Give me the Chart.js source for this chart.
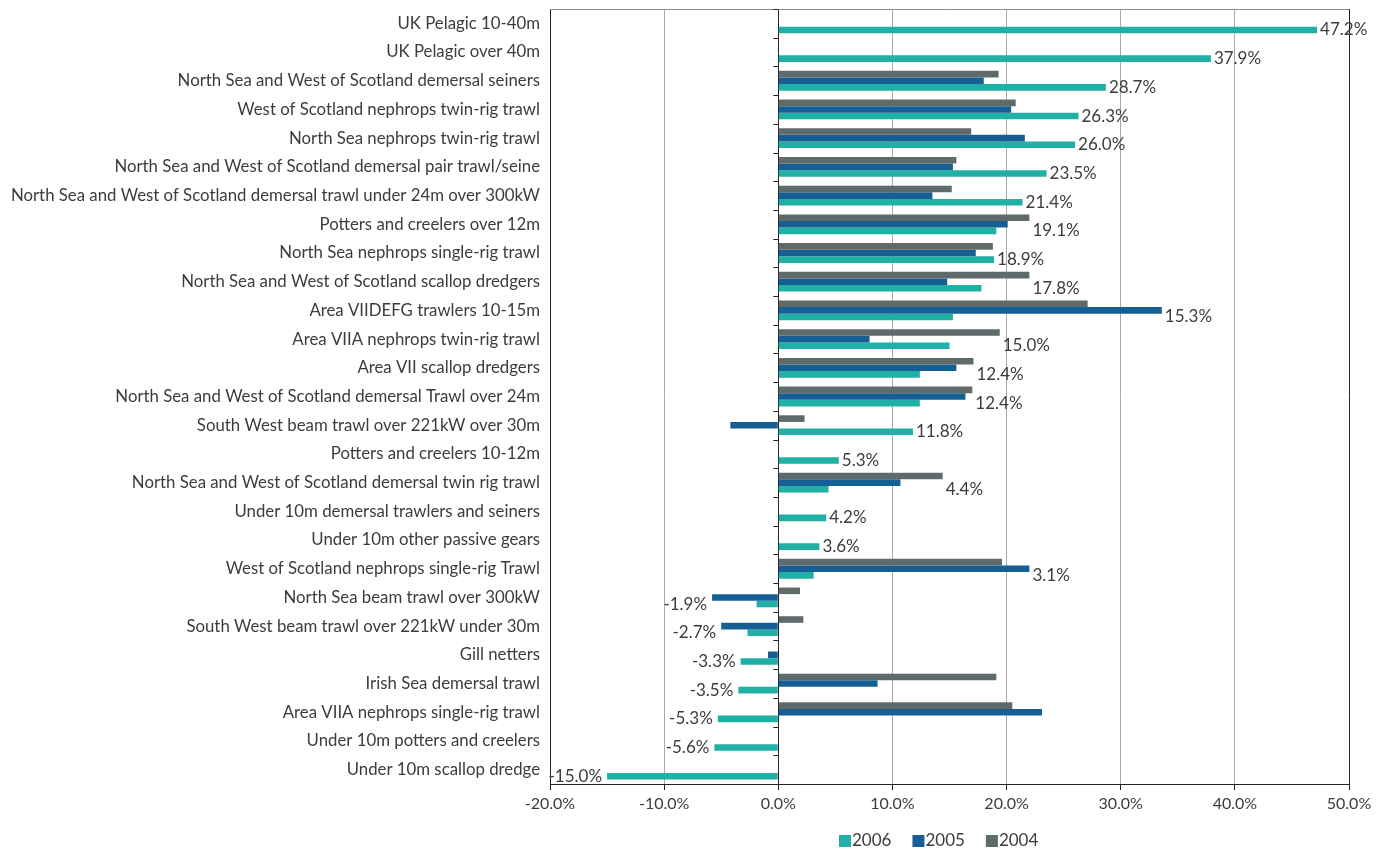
<!DOCTYPE html>
<html>
<head>
<meta charset="utf-8">
<script src="https://cdn.jsdelivr.net/npm/chart.js@4.4.0/dist/chart.umd.min.js"></script>
<style>
  html, body { margin: 0; padding: 0; background: #fff; }
  #wrap { width: 1397px; height: 850px; }
</style>
</head>
<body>
<div id="wrap"><canvas id="chart"></canvas></div>
<script>
// Categories, top to bottom
const categories = [
    'UK Pelagic 10-40m',
    'UK Pelagic over 40m',
    'North Sea and West of Scotland demersal seiners',
    'West of Scotland nephrops twin-rig trawl',
    'North Sea nephrops twin-rig trawl',
    'North Sea and West of Scotland demersal pair trawl/seine',
    'North Sea and West of Scotland demersal trawl under 24m over 300kW',
    'Potters and creelers over 12m',
    'North Sea nephrops single-rig trawl',
    'North Sea and West of Scotland scallop dredgers',
    'Area VIIDEFG trawlers 10-15m',
    'Area VIIA nephrops twin-rig trawl',
    'Area VII scallop dredgers',
    'North Sea and West of Scotland demersal Trawl over 24m',
    'South West beam trawl over 221kW over 30m',
    'Potters and creelers 10-12m',
    'North Sea and West of Scotland demersal twin rig trawl',
    'Under 10m demersal trawlers and seiners',
    'Under 10m other passive gears',
    'West of Scotland nephrops single-rig Trawl',
    'North Sea beam trawl over 300kW',
    'South West beam trawl over 221kW under 30m',
    'Gill netters',
    'Irish Sea demersal trawl',
    'Area VIIA nephrops single-rig trawl',
    'Under 10m potters and creelers',
    'Under 10m scallop dredge'
];

const values2006 = [47.2, 37.9, 28.7, 26.3, 26.0, 23.5, 21.4, 19.1, 18.9, 17.8, 15.3, 15.0, 12.4, 12.4, 11.8,
    5.3, 4.4, 4.2, 3.6, 3.1, -1.9, -2.7, -3.3, -3.5, -5.3, -5.6, -15.0];
const values2005 = [null, null, 18.0, 20.4, 21.6, 15.3, 13.5, 20.1, 17.3, 14.8, 33.6, 8.0, 15.6, 16.4, -4.2,
    null, 10.7, null, null, 22.0, -5.8, -5.0, -0.9, 8.7, 23.1, null, null];
const values2004 = [null, null, 19.3, 20.8, 16.9, 15.6, 15.2, 22.0, 18.8, 22.0, 27.1, 19.4, 17.1, 17.0, 2.3,
    null, 14.4, null, null, 19.6, 1.9, 2.2, null, 19.1, 20.5, null, null];

const xTicks = [-20, -10, 0, 10, 20, 30, 40, 50];

const colors = {
    y2006: '#20b0a5',
    y2005: '#155f94',
    y2004: '#5f6a6b',
    grid: '#a9a9a9',
    axis: '#222',
    text: '#3c3c3c'
};

const fontFamily = 'Lato, "Open Sans", sans-serif';

// Value labels for 2006, placed beyond the longest bar in each row
const valueLabels = {
    id: 'valueLabels',
    afterDatasetsDraw(chart) {
        const ctx = chart.ctx;
        const xs = chart.scales.x;
        const meta = chart.getDatasetMeta(2);
        ctx.save();
        ctx.font = '17px ' + fontFamily;
        ctx.fillStyle = colors.text;
        ctx.textBaseline = 'middle';
        values2006.forEach((v, i) => {
            const all = [values2004[i], values2005[i], v].filter(d => d !== null);
            const y = meta.data[i].y;
            const txt = v.toFixed(1) + '%';
            if (v >= 0) {
                ctx.textAlign = 'left';
                ctx.fillText(txt, xs.getPixelForValue(Math.max(...all)) + 3, y);
            } else {
                ctx.textAlign = 'right';
                ctx.fillText(txt, xs.getPixelForValue(Math.min(...all)) - 5, y);
            }
        });
        ctx.restore();
    }
};

// Frame, zero-line tick marks and legend
const frame = {
    id: 'frame',
    beforeDatasetsDraw(chart) {
        const { ctx, chartArea: a, scales } = chart;
        const x0 = scales.x.getPixelForValue(0);
        const n = categories.length;
        ctx.save();
        ctx.strokeStyle = '#8a8a8a';
        ctx.lineWidth = 1;
        ctx.beginPath();
        ctx.moveTo(a.left, a.top + 0.5);
        ctx.lineTo(a.right, a.top + 0.5);
        ctx.stroke();
        ctx.strokeStyle = colors.axis;
        ctx.beginPath();
        for (let i = 0; i <= n; i++) {
            const y = Math.round(a.top + i * (a.bottom - a.top) / n) + 0.5;
            ctx.moveTo(x0 - 5, y);
            ctx.lineTo(x0, y);
        }
        ctx.stroke();
        ctx.restore();
    },
    afterDraw(chart) {
        const ctx = chart.ctx;
        const items = [['2006', colors.y2006], ['2005', colors.y2005], ['2004', colors.y2004]];
        ctx.save();
        ctx.font = '17px ' + fontFamily;
        ctx.textBaseline = 'middle';
        ctx.textAlign = 'left';
        let x = 839;
        const y = 841;
        items.forEach(([label, c]) => {
            ctx.fillStyle = c;
            ctx.fillRect(x, y - 6, 12, 12);
            ctx.fillStyle = colors.text;
            ctx.fillText(label, x + 13, y);
            x += 13 + ctx.measureText(label).width + 21;
        });
        ctx.restore();
    }
};

const barStyle = { barPercentage: 1.0, categoryPercentage: 0.69 };

new Chart(document.getElementById('chart'), {
    type: 'bar',
    data: {
        labels: categories,
        datasets: [
            { label: '2004', data: values2004, backgroundColor: colors.y2004, ...barStyle },
            { label: '2005', data: values2005, backgroundColor: colors.y2005, ...barStyle },
            { label: '2006', data: values2006, backgroundColor: colors.y2006, ...barStyle }
        ]
    },
    options: {
        indexAxis: 'y',
        responsive: true,
        maintainAspectRatio: false,
        animation: false,
        layout: { padding: { top: 9, right: 48, bottom: 0, left: 0 } },
        plugins: {
            legend: { display: false },
            tooltip: { enabled: false }
        },
        scales: {
            x: {
                type: 'linear',
                min: xTicks[0],
                max: xTicks[xTicks.length - 1],
                afterBuildTicks: s => { s.ticks = xTicks.map(v => ({ value: v })); },
                afterFit: s => { s.height = 66; },
                grid: {
                    color: c => (c.tick && c.tick.value === 0) || c.index === 0 || c.index === xTicks.length - 1 ? colors.axis : colors.grid,
                    tickColor: colors.axis,
                    tickLength: 6,
                    lineWidth: 1
                },
                border: { display: true, color: colors.axis },
                ticks: {
                    color: colors.text,
                    font: { family: fontFamily, size: 16 },
                    padding: 4,
                    maxRotation: 0,
                    callback: v => v.toFixed(1) + '%'
                }
            },
            y: {
                type: 'category',
                afterFit: s => { s.width = 550; s.paddingTop = 0; s.paddingBottom = 0; },
                grid: { display: false, drawTicks: false },
                border: { display: true, color: colors.axis },
                ticks: {
                    color: colors.text,
                    font: { family: fontFamily, size: 16.8 },
                    padding: 10,
                    autoSkip: false
                }
            }
        }
    },
    plugins: [frame, valueLabels]
});
</script>
</body>
</html>
